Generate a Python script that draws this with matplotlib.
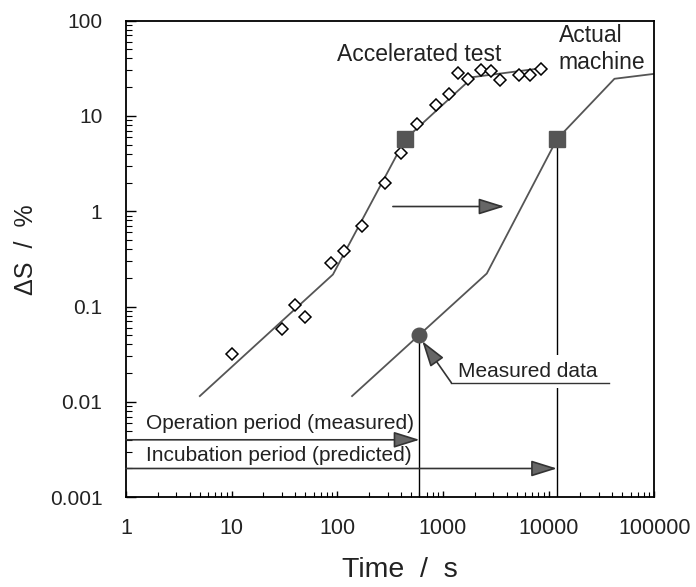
import numpy as np
import matplotlib
matplotlib.use('Agg')
import matplotlib.pyplot as plt
from matplotlib.ticker import LogLocator, FuncFormatter, NullFormatter

plt.rcParams['font.family'] = ['Liberation Sans', 'DejaVu Sans']

# accelerated test points (diamonds)
acc_t = [10, 30, 40, 50, 88, 116, 173, 285, 400, 572, 864, 1130, 1400, 1720, 2300, 2860, 3500, 5300, 6730, 8490]
acc_ds = [0.032, 0.0575, 0.103, 0.078, 0.288, 0.386, 0.695, 1.99, 4.1, 8.27, 13.1, 17.0, 28.5, 24.5, 30.4, 29.9, 23.9, 26.9, 26.9, 31.1]

# fitted broken lines
acc_line_t = [5, 91, 440, 1920, 8500]
acc_line_ds = [0.0115, 0.217, 5.7, 25.5, 31.6]
act_line_t = [138, 2600, 12000, 42000, 100000]
act_line_ds = [0.0115, 0.222, 5.7, 24.5, 27.6]

# special points
sq_t = [440, 12000]
sq_ds = [5.7, 5.7]
meas_t = 600
meas_ds = 0.05
pred_t = 12000

op_level = 0.004
inc_level = 0.002
shift_y = 1.12
shift_from = 336
shift_to = 3820

x_ticks = [1, 10, 100, 1000, 10000, 100000]
y_ticks = [0.001, 0.01, 0.1, 1, 10, 100]

gray = '#555555'
ink = '#222222'

fig = plt.figure(figsize=(6.96, 5.87), dpi=100)
ax = fig.add_axes([0.181, 0.153, 0.759, 0.812])

ax.plot(acc_line_t, acc_line_ds, color=gray, lw=1.3, zorder=2)
ax.plot(act_line_t, act_line_ds, color=gray, lw=1.3, zorder=2)
ax.plot(acc_t, acc_ds, 'D', ms=6.3, mfc='white', mec='black', mew=1.1, zorder=4)
ax.plot(sq_t, sq_ds, 's', ms=12, color=gray, zorder=5)
ax.plot([meas_t], [meas_ds], 'o', ms=10.5, color=gray, zorder=5)

# vertical markers down to axis
ax.plot([meas_t, meas_t], [y_ticks[0], meas_ds], color='black', lw=1.0, zorder=1)
ax.plot([pred_t, pred_t], [y_ticks[0], sq_ds[1]], color='black', lw=1.0, zorder=1)

arr = dict(arrowstyle='-|>,head_length=0.8,head_width=0.25', fc='#666666', ec='#333333',
           lw=1.2, mutation_scale=20, shrinkA=0, shrinkB=0)
ax.annotate('', xy=(meas_t, op_level), xytext=(x_ticks[0], op_level), arrowprops=arr, zorder=3)
ax.annotate('', xy=(pred_t, inc_level), xytext=(x_ticks[0], inc_level), arrowprops=arr, zorder=3)
ax.annotate('', xy=(shift_to, shift_y), xytext=(shift_from, shift_y), arrowprops=arr, zorder=3)

ax.text(1.55, 0.006, 'Operation period (measured)', fontsize=15, va='center', ha='left', color=ink)
ax.text(1.55, 0.00272, 'Incubation period (predicted)', fontsize=15, va='center', ha='left', color=ink)
ax.text(594, 43.6, 'Accelerated test', fontsize=16.5, va='center', ha='center', color=ink)
ax.text(12450, 50.5, 'Actual\nmachine', fontsize=16.5, va='center', ha='left', linespacing=1.2, color=ink)

ax.text(1400, 0.0209, 'Measured data', fontsize=15, va='center', ha='left', color=ink, zorder=6,
        bbox=dict(facecolor='white', edgecolor='none', pad=5))
ax.plot([1200, 37000], [0.0159, 0.0159], color='#333333', lw=1.0, zorder=7)
ax.annotate('', xy=(637, 0.0434), xytext=(1200, 0.0159), arrowprops=arr, zorder=7)

ax.set_xscale('log')
ax.set_yscale('log')
ax.set_xlim(1, 100000)
ax.set_ylim(0.001, 100)

ax.xaxis.set_major_locator(LogLocator(base=10, numticks=10))
ax.xaxis.set_minor_locator(LogLocator(base=10, subs=np.arange(2, 10), numticks=20))
ax.yaxis.set_major_locator(LogLocator(base=10, numticks=10))
ax.yaxis.set_minor_locator(LogLocator(base=10, subs=np.arange(2, 10), numticks=20))
ax.xaxis.set_major_formatter(FuncFormatter(lambda v, p: '%d' % round(v)))
ax.yaxis.set_major_formatter(FuncFormatter(lambda v, p: '%g' % v))
ax.xaxis.set_minor_formatter(NullFormatter())
ax.yaxis.set_minor_formatter(NullFormatter())

ax.tick_params(axis='y', which='major', direction='in', length=7, width=1, right=False, labelsize=15, pad=17, labelcolor=ink)
ax.tick_params(axis='y', which='minor', direction='in', length=4.5, width=0.8, right=False)
ax.tick_params(axis='x', which='major', direction='in', length=4, width=1, top=False, labelsize=15.5, pad=15, labelcolor=ink)
ax.tick_params(axis='x', which='minor', direction='in', length=3.5, width=0.8, top=False)

for s in ax.spines.values():
    s.set_linewidth(1.3)

ax.set_xlabel('Time  /  s', fontsize=20.5, color=ink)
ax.set_ylabel('ΔS  /  %', fontsize=18, color=ink)
ax.xaxis.set_label_coords(0.518, -0.125)
ax.yaxis.set_label_coords(-0.167, 0.519)

fig.savefig('out.png', dpi=100)
